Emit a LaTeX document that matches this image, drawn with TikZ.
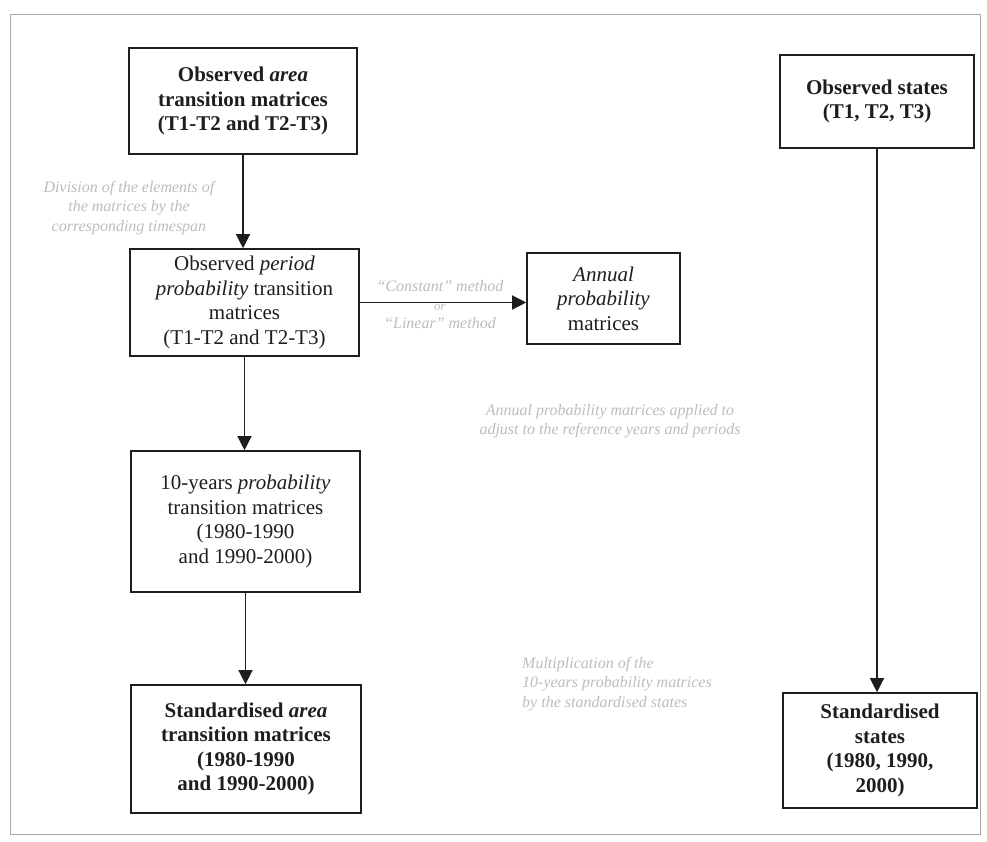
\documentclass[tikz,border=0pt]{standalone}
\usepackage{fontspec}
\setmainfont{Liberation Serif}
\usetikzlibrary{arrows.meta}
\definecolor{ink}{HTML}{1E1E1E}
\definecolor{faint}{HTML}{BDBDBD}
\definecolor{framegray}{HTML}{A8A8A8}
\tikzset{
  box/.style={draw=ink, line width=1.6pt, inner sep=0pt, align=center, text=ink,
    font=\fontsize{21}{24.5}\selectfont},
  boldbox/.style={box, font=\fontsize{21}{24.5}\selectfont\bfseries},
  note/.style={text=faint, font=\fontsize{16}{19.5}\selectfont\itshape, inner sep=0pt},
  flow/.style={draw=ink, line width=1.3pt, -{Triangle[length=14pt,width=14pt]}}
}
\begin{document}
\begin{tikzpicture}[x=1pt,y=-1pt]
\useasboundingbox (0,0) rectangle (987,842);
\fill[white] (0,0) rectangle (987,842);
\draw[framegray, line width=0.8pt] (10,14) rectangle (980,834);

\node[boldbox, minimum width=228pt, minimum height=106pt] (b1) at (243,101)
  {Observed \textit{area}\\transition matrices\\(T1-T2 and T2-T3)};
\node[box, minimum width=229pt, minimum height=107pt] (b2) at (244.5,302.5)
  {Observed \textit{period}\\\textit{probability} transition\\matrices\\(T1-T2 and T2-T3)};
\node[box, minimum width=153pt, minimum height=91pt] (b3) at (603.5,298.5)
  {\textit{Annual}\\\textit{probability}\\matrices};
\node[box, minimum width=229pt, minimum height=141pt] (b4) at (245.5,521.5)
  {10-years \textit{probability}\\transition matrices\\(1980-1990\\and 1990-2000)};
\node[boldbox, minimum width=230pt, minimum height=128pt] (b5) at (246,749)
  {Standardised \textit{area}\\transition matrices\\(1980-1990\\and 1990-2000)};
\node[boldbox, minimum width=194pt, minimum height=93pt] (b6) at (877,101.5)
  {Observed states\\(T1, T2, T3)};
\node[boldbox, minimum width=194pt, minimum height=115pt] (b7) at (880,750.5)
  {Standardised\\states\\(1980, 1990,\\2000)};

\draw[flow] (b1.south) -- (b1.south |- b2.north);
\draw[flow] (b2.south) -- (b2.south |- b4.north);
\draw[flow] (b4.south) -- (b4.south |- b5.north);
\draw[flow] (b2.east) -- (b3.west |- b2.east);
\draw[flow] (b6.south) -- (b6.south |- b7.north);

\node[note, align=center] (n1) at (129,208)
  {Division of the elements of\\the matrices by the\\corresponding timespan};
\node[note, anchor=base] (n2a) at (440,291) {``Constant'' method};
\node[note, anchor=base, font=\fontsize{13}{15}\selectfont\itshape] (n2b) at (440,310) {or};
\node[note, anchor=base] (n2c) at (440,328) {``Linear'' method};
\node[note, align=center] (n3) at (610,421)
  {Annual probability matrices applied to\\adjust to the reference years and periods};
\node[note, align=left, anchor=west] (n4) at (522,684)
  {Multiplication of the\\10-years probability matrices\\by the standardised states};
\end{tikzpicture}
\end{document}
